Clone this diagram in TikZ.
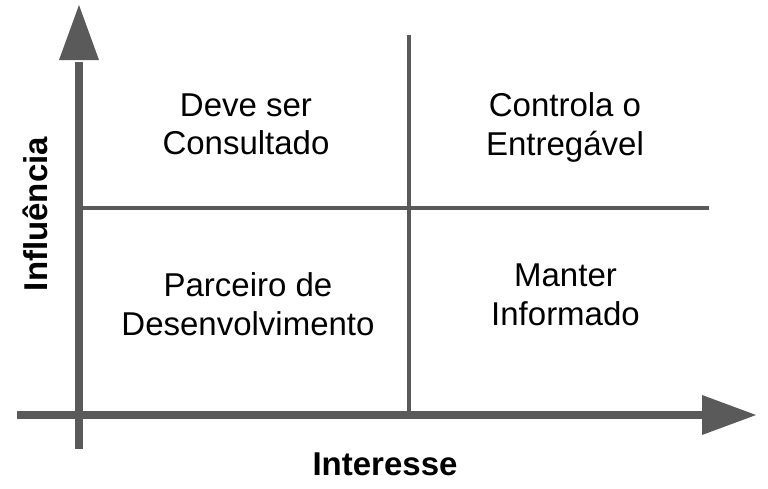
\documentclass[tikz,border=0pt]{standalone}
\usepackage{fontspec}
\setmainfont{Liberation Sans}
\definecolor{axisgray}{HTML}{5A5A5A}
\tikzset{
  axisline/.style={draw=axisgray, line width=8.5pt},
  divider/.style={draw=axisgray, line width=4.3pt},
  axishead/.style={fill=axisgray},
  lbl/.style={anchor=base, inner sep=0pt, font=\fontsize{33}{38}\selectfont},
  axislbl/.style={anchor=base, inner sep=0pt, font=\fontsize{33}{38}\selectfont\bfseries}
}
\begin{document}
\begin{tikzpicture}[x=1pt,y=-1pt]
\useasboundingbox (0,0) rectangle (768,488);
% axes
\coordinate (ytip) at (79,5);
\coordinate (ybase) at (79,62);
\coordinate (ybot) at (79,449);
\coordinate (xleft) at (17,415);
\coordinate (xbase) at (704,415);
\coordinate (xtip) at (756,415);
\draw[axisline] (ybot) -- (ybase);
\fill[axishead] (59,60) -- (ytip) -- (99,60) -- cycle;
\draw[axisline] (xleft) -- (xbase);
\fill[axishead] (702,395) -- (xtip) -- (702,435) -- cycle;
% dividers
\coordinate (vtop) at (409,35);
\coordinate (vbot) at (409,415);
\coordinate (hleft) at (83,208);
\coordinate (hright) at (709,208);
\draw[divider] (vtop) -- (vbot);
\draw[divider] (hleft) -- (hright);
% quadrant texts
\node[lbl] (tla) at (246,116) {Deve ser};
\node[lbl] (tlb) at (246,154.5) {Consultado};
\node[lbl] (tra) at (565,116) {Controla o};
\node[lbl] (trb) at (565,155) {Entregável};
\node[lbl] (bla) at (248,296.5) {Parceiro de};
\node[lbl] (blb) at (248,335) {Desenvolvimento};
\node[lbl] (bra) at (565.5,286) {Manter};
\node[lbl] (brb) at (565.5,325) {Informado};
% axis labels
\node[axislbl] (xlbl) at (385,475) {Interesse};
\node[axislbl, rotate=90] (ylbl) at (47,214) {Influência};
\end{tikzpicture}
\end{document}
